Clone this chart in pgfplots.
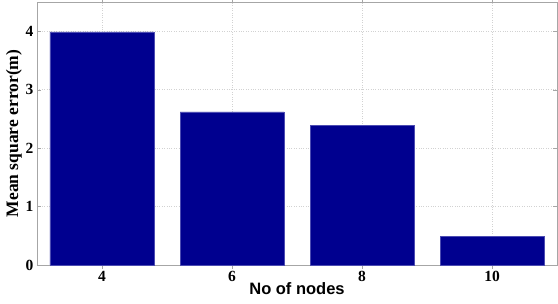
\documentclass[border=0pt]{standalone}
\usepackage{fontspec}
\setmainfont{Liberation Serif}
\setsansfont{Liberation Sans}
\usepackage{pgfplots}
\pgfplotsset{compat=1.18}
\definecolor{barblue}{RGB}{0,0,143}
\begin{document}
\begin{tikzpicture}
\begin{axis}[
  scale only axis,
  width=520pt, height=263pt,
  xmin=3, xmax=11, ymin=0, ymax=4.5,
  xtick={4,6,8,10}, ytick={0,1,2,3,4},
  grid=major,
  grid style={dotted, gray!35, line width=0.5pt},
  axis line style={gray!70},
  tick style={gray!70},
  tick align=inside,
  major tick length=4pt,
  ticklabel style={font=\fontsize{15.5}{17}\selectfont\bfseries},
  xticklabel style={yshift=1pt},
  /pgf/number format/assume math mode=true,
  xlabel={\sffamily\bfseries No of nodes},
  ylabel={\bfseries Mean square error(m)},
  xlabel style={font=\fontsize{16.5}{18}\selectfont, yshift=6pt},
  ylabel style={font=\fontsize{17.5}{19}\selectfont, yshift=-3pt},
  ybar, bar width=1.6,
  bar shift=0pt,
]
\addplot[fill=barblue, draw=gray!60!blue] coordinates {(4,3.99) (6,2.62) (8,2.39) (10,0.49)};
\end{axis}
\pgfresetboundingbox
\useasboundingbox ([xshift=-37pt,yshift=-38pt]current axis.south west) rectangle ([xshift=1pt,yshift=2pt]current axis.north east);
\end{tikzpicture}
\end{document}
